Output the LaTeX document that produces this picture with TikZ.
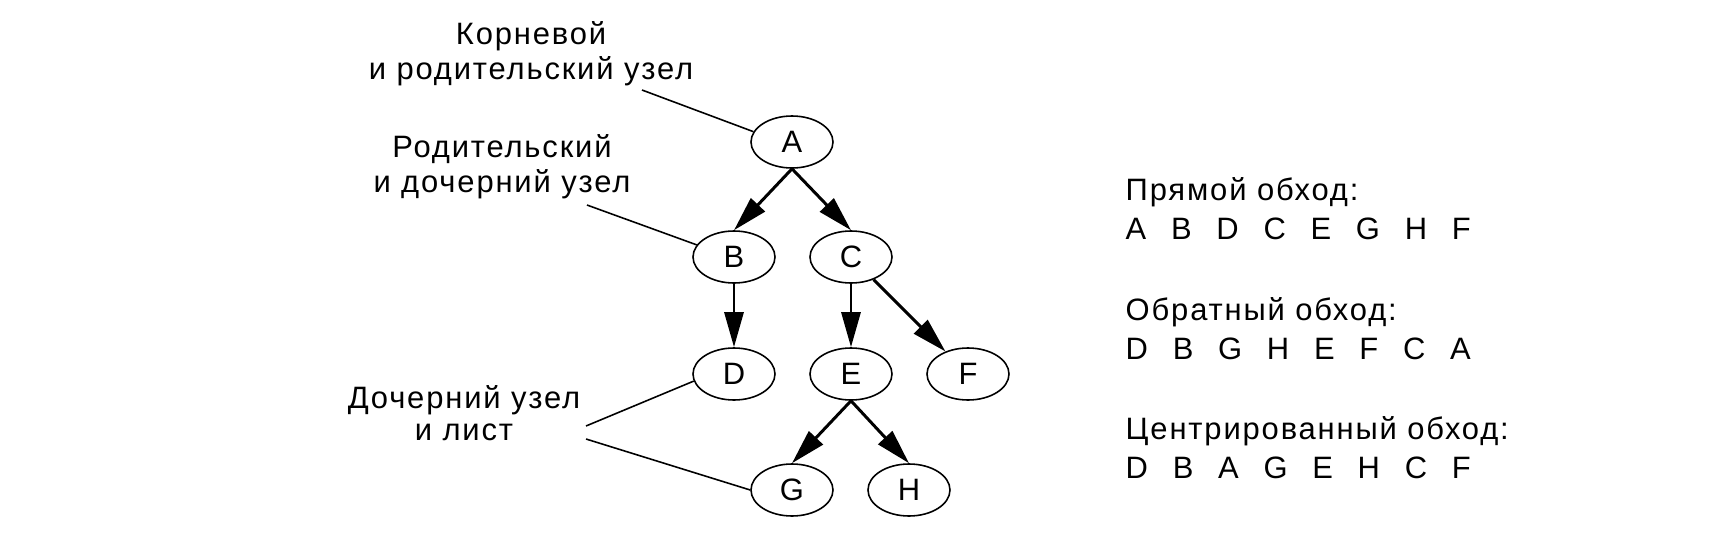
\documentclass[tikz,border=0pt]{standalone}
\usepackage{fontspec}
\setmainfont{Liberation Sans}[LetterSpace=6]
\usepackage{tikz}
\usetikzlibrary{shapes.geometric,arrows.meta}
\newcommand{\ordsep}{\hspace{0.8em}}

\begin{document}
\begin{tikzpicture}[
  treenode/.style={draw, ellipse, line width=0.45pt, minimum width=0.82cm, minimum height=0.52cm, inner sep=0pt, font=\fontsize{8.8}{10}\selectfont},
  child/.style={line width=0.85pt, -{Triangle[length=3.5mm,width=1.9mm]}},
  leader/.style={line width=0.45pt},
  note/.style={align=center, inner sep=0pt, font=\fontsize{8.8}{10}\selectfont},
  order/.style={align=left, anchor=west, inner sep=0pt, font=\fontsize{8.8}{11.1}\selectfont}
]
  \useasboundingbox (0,0) rectangle (17.25,5.36);

  % the tree
  \node[treenode] (A) at (7.92,3.94) {A};
  \node[treenode] (B) at (7.34,2.79) {B};
  \node[treenode] (C) at (8.51,2.79) {C};
  \node[treenode] (D) at (7.34,1.62) {D};
  \node[treenode] (E) at (8.51,1.62) {E};
  \node[treenode] (F) at (9.68,1.62) {F};
  \node[treenode] (G) at (7.92,0.46) {G};
  \node[treenode] (H) at (9.09,0.46) {H};
  \draw[child] (A.south) -- (B.north);
  \draw[child] (A.south) -- (C.north);
  \draw[child] (B) -- (D);
  \draw[child] (C) -- (E);
  \draw[child] (C) -- (F);
  \draw[child] (E.south) -- (G.north);
  \draw[child] (E.south) -- (H.north);

  % captions on the left
  \node[note] (root) at (5.31,4.82) {Корневой\\и родительский узел};
  \node[note] (parent) at (5.02,3.69) {Родительский\\и дочерний узел};
  \node[note, font=\fontsize{8.8}{9.1}\selectfont] (leaf) at (4.64,1.23) {Дочерний узел\\и лист};
  \coordinate (root-end) at (6.42,4.46);
  \coordinate (parent-end) at (5.87,3.31);
  \coordinate (leaf-up) at (5.86,1.10);
  \coordinate (leaf-down) at (5.86,0.97);
  \draw[leader] (root-end) -- (A.165);
  \draw[leader] (parent-end) -- (B.162);
  \draw[leader] (leaf-up) -- (D.190);
  \draw[leader] (leaf-down) -- (G.west);

  % traversal orders
  \node[order] (pre) at (11.25,3.27) {Прямой обход:\\A\ordsep B\ordsep D\ordsep C\ordsep E\ordsep G\ordsep H\ordsep F};
  \node[order] (post) at (11.25,2.07) {Обратный обход:\\D\ordsep B\ordsep G\ordsep H\ordsep E\ordsep F\ordsep C\ordsep A};
  \node[order] (in) at (11.25,0.88) {Центрированный обход:\\D\ordsep B\ordsep A\ordsep G\ordsep E\ordsep H\ordsep C\ordsep F};
\end{tikzpicture}
\end{document}
